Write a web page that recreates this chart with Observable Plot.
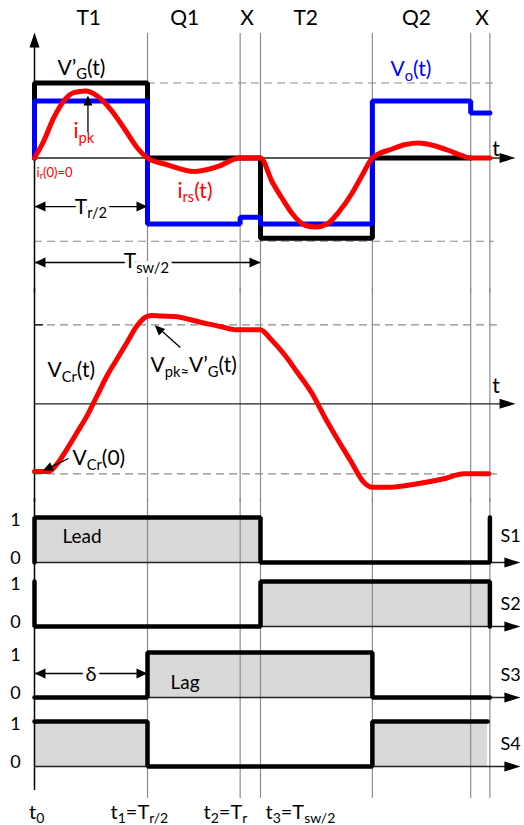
<!DOCTYPE html>
<html>
<head>
<meta charset="utf-8">
<script src="https://cdn.jsdelivr.net/npm/d3@7"></script>
<script src="https://cdn.jsdelivr.net/npm/@observablehq/plot@0.6"></script>
<style>
  html, body { margin: 0; padding: 0; background: #fff; }
  #chart { width: 524px; }
  #chart svg { display: block; }
</style>
</head>
<body>
<div id="chart"></div>
<script>
// Time base: t0 = 0, t1 = Tr/2 = 1
const eventTimes = [0, 1, 1.82, 2, 2.99, 3.86, 4.03]; // t0, t1, t2, t3, t4, t5, t6
const intervalNames = ["T1", "Q1", "X", "T2", "Q2", "X"];
const intervalLabelTimes = [0.48, 1.33, 1.88, 2.4, 3.38, 3.96];

// Transformer voltage V'G(t), normalised
const vgTimes  = [0, 0, 1, 1, 2, 2, 2.99, 2.99, 3.86];
const vgValues = [0, 1, 1, 0, 0, -1.07, -1.07, 0, 0];
const vgRef = [1, -1.11];

// Output voltage Vo(t)
const voTimes  = [0, 0, 1, 1, 1.82, 1.82, 2, 2, 2.99, 2.99, 3.86, 3.86, 4.03];
const voValues = [0, 0.76, 0.76, -0.88, -0.88, -0.79, -0.79, -0.88, -0.88, 0.76, 0.76, 0.6, 0.6];

// Resonant current irs(t)
const irsTimes  = [0, 0.082, 0.171, 0.259, 0.348, 0.451, 0.555, 0.673, 0.79, 0.909, 1.0, 1.174, 1.41, 1.617, 1.82, 2.0,
                   2.104, 2.192, 2.28, 2.398, 2.487, 2.59, 2.693, 2.81, 2.9, 2.99, 3.165, 3.283, 3.4, 3.52, 3.667, 3.785, 3.86, 4.03];
const irsValues = [0, 0.227, 0.537, 0.76, 0.871, 0.893, 0.827, 0.649, 0.404, 0.137, 0, -0.09, -0.18, -0.116, 0, 0,
                   -0.32, -0.54, -0.74, -0.9, -0.92, -0.88, -0.72, -0.47, -0.23, 0, 0.12, 0.18, 0.2, 0.17, 0.1, 0.03, 0, 0];

// Resonant capacitor voltage VCr(t)
const vcrTimes  = [0, 0.127, 0.2, 0.289, 0.378, 0.466, 0.555, 0.643, 0.732, 0.82, 0.909, 0.982, 1.04, 1.115, 1.233, 1.469, 1.646, 1.794, 2.0,
                   2.088, 2.206, 2.325, 2.458, 2.56, 2.679, 2.796, 2.914, 2.988, 3.15, 3.387, 3.622, 3.8, 4.02];
const vcrValues = [-0.857, -0.857, -0.76, -0.57, -0.36, -0.15, 0.105, 0.358, 0.57, 0.78, 0.99, 1.096, 1.118, 1.11, 1.105, 1.033, 0.978, 0.937, 0.937,
                   0.823, 0.633, 0.4, 0.127, -0.148, -0.443, -0.718, -0.992, -1.056, -1.056, -1.013, -0.949, -0.886, -0.886];
const vcrRef = [1, -0.886];

// Gate signals (corner points of each square wave)
const switchNames = ["S1", "S2", "S3", "S4"];
const s1Times = [0, 0, 2, 2, 4.03, 4.03],      s1Levels = [0, 1, 1, 0, 0, 1];
const s2Times = [0, 0, 2, 2, 4.03, 4.03],      s2Levels = [1, 0, 0, 1, 1, 0];
const s3Times = [0, 1, 1, 2.99, 2.99, 4.03],   s3Levels = [0, 0, 1, 1, 0, 0];
const s4Times = [0, 1, 1, 2.99, 2.99, 4.01],   s4Levels = [1, 1, 0, 0, 1, 1];
const levelNames = ["0", "1"];

const pts = (ts, vs) => ts.map((t, i) => ({t, v: vs[i]}));
const vg = pts(vgTimes, vgValues);
const vo = pts(voTimes, voValues);
const irs = pts(irsTimes, irsValues);
const vcr = pts(vcrTimes, vcrValues);
const signals = [pts(s1Times, s1Levels), pts(s2Times, s2Levels), pts(s3Times, s3Levels), pts(s4Times, s4Levels)];

// ---- drawing helpers ----
const GRID = "#8c8c8c";
const RED = "#ff0000", BLUE = "#0000ff";
const dashed = {stroke: GRID, strokeWidth: 1.2, strokeDasharray: "8,5"};
const gridLines = eventTimes.slice(1);

function label(text, t, v, opts = {}) {
  return Plot.text([text], {x: () => t, y: () => v, text: d => d, textAnchor: "start", lineAnchor: "bottom", fontSize: 21, ...opts});
}
function head(t, v, rotate, length = 10, r = 4.5) {
  return Plot.vector([{t, v}], {x: "t", y: "v", rotate, length, r, shape: "spike", anchor: "end", fill: "black", stroke: "none"});
}
function pointer(t1, v1, t2, v2, tipT, tipV, rotate, length = 10) {
  return [
    Plot.link([0], {x1: () => t1, y1: () => v1, x2: () => t2, y2: () => v2, stroke: "black", strokeWidth: 1.3}),
    head(tipT, tipV, rotate, length, 4.5)
  ];
}
function span(tA, tB, v, text, textT, textV, fontSize = 21) {
  return [
    Plot.ruleY([v], {x1: tA, x2: tB, stroke: "black", strokeWidth: 1.3}),
    head(tA, v, -90, 11, 5),
    head(tB, v, 90, 11, 5),
    label(text, textT, textV, {textAnchor: "middle", stroke: "white", strokeWidth: 8, fill: "black", fontSize})
  ];
}
function timeAxis(v, tEnd, tipT) {
  return [
    Plot.ruleY([v], {x1: 0, x2: tEnd, stroke: "#222", strokeWidth: 1.3}),
    head(tipT, v, 90, 16, 5)
  ];
}

function applySubscripts(svg) {
  d3.select(svg).selectAll("text").each(function () {
    const s = this.textContent;
    if (!s.includes("_{")) return;
    const node = d3.select(this);
    node.text(null);
    let lowered = false;
    for (const part of s.split(/(_\{[^}]*\})/)) {
      if (!part) continue;
      if (part.startsWith("_{")) {
        node.append("tspan").attr("font-size", "0.7em").attr("dy", lowered ? null : "0.3em").text(part.slice(2, -1));
        lowered = true;
      } else {
        node.append("tspan").attr("dy", lowered ? "-0.21em" : null).text(part);
        lowered = false;
      }
    }
  });
  return svg;
}

function panel(height, y, marks) {
  const svg = Plot.plot({
    width: 524,
    height,
    margin: 0,
    x: {domain: [0, 1], range: [34, 147], axis: null},
    y: {...y, axis: null},
    style: {fontFamily: "Lato, 'Open Sans', sans-serif", fontSize: "21px", background: "white", overflow: "visible"},
    marks
  });
  return applySubscripts(svg);
}

// ---- panel 1: V'G, Vo and irs ----
const waveformPanel = panel(290, {domain: [0, 1], range: [157.5, 82.5]}, [
  Plot.ruleX(gridLines, {y1: 1.66, y2: -1.8, stroke: GRID, strokeWidth: 1.2}),
  Plot.ruleY([vgRef[0]], {x1: eventTimes[1], x2: 4.07, ...dashed}),
  Plot.ruleY([vgRef[1]], {x1: 0, x2: 4.07, ...dashed}),
  Plot.ruleX([0], {y1: 1.5, y2: -1.8, stroke: "black", strokeWidth: 1.5}),
  head(0, 1.673, 0, 15, 5),
  ...timeAxis(0, 4.15, 4.257),
  Plot.text(intervalNames, {x: (d, i) => intervalLabelTimes[i], y: () => 1.767, text: d => d, lineAnchor: "bottom", fontSize: 21}),
  Plot.line(vg, {x: "t", y: "v", stroke: "black", strokeWidth: 5, strokeLinejoin: "miter"}),
  Plot.line(vo, {x: "t", y: "v", stroke: BLUE, strokeWidth: 5, strokeLinejoin: "miter"}),
  Plot.line(irs, {x: "t", y: "v", stroke: RED, strokeWidth: 5, curve: "monotone-x"}),
  label("V’_{G}(t)", 0.204, 1.113),
  label("V_{o}(t)", 3.15, 1.087, {fill: BLUE}),
  ...pointer(0.473, 0.34, 0.473, 0.74, 0.473, 0.833, 0, 10),
  label("i_{pk}", 0.345, 0.264, {fill: RED}),
  label("i_{r}(0)=0", 0.018, -0.247, {fill: RED, fontSize: 13}),
  label("i_{rs}(t)", 1.265, -0.527, {fill: RED}),
  label("t", 4.05, 0.033),
  ...span(0, 1, -0.647, "T_{r/2}", 0.5, -0.74),
  ...span(0, 2, -1.393, "T_{sw/2}", 0.99, -1.473)
]);

// ---- panel 2: VCr ----
const capacitorPanel = panel(210, {domain: [0, 1], range: [113.3, 34.3]}, [
  Plot.ruleX(gridLines, {y1: 1.45, y2: -1.25, stroke: GRID, strokeWidth: 1.2}),
  Plot.ruleY([vcrRef[0]], {x1: 0, x2: 4.1, ...dashed}),
  Plot.ruleY([vcrRef[1]], {x1: 0, x2: 4.1, ...dashed}),
  Plot.ruleY([vcrRef[0]], {x1: 0, x2: 0.08, stroke: "#222", strokeWidth: 1.5}),
  Plot.ruleX([0], {y1: 1.45, y2: -1.25, stroke: "black", strokeWidth: 1.5}),
  ...timeAxis(0, 4.15, 4.257),
  Plot.line(vcr, {x: "t", y: "v", stroke: RED, strokeWidth: 5, curve: "monotone-x"}),
  label("V_{Cr}(t)", 0.115, 0.337),
  label("V_{pk≈}V’_{G}(t)", 1.027, 0.4),
  ...pointer(1.29, 0.713, 1.09, 0.97, 1.065, 0.995, -46, 10),
  label("V_{Cr}(0)", 0.336, -0.781),
  ...pointer(0.301, -0.692, 0.1, -0.83, 0.075, -0.845, -115, 10),
  label("t", 4.05, 0.143)
]);

// ---- panel 3: gate signals ----
const laneOffset = [4.533, 3.111, 1.533, 0];
const laneFills = signals.map((sig, i) => {
  const o = laneOffset[i];
  return Plot.areaY(sig, {x: "t", y1: () => o, y2: d => o + d.v, fill: "#d9d9d9"});
});
const laneLines = signals.flatMap((sig, i) => {
  const o = laneOffset[i];
  return [
    ...timeAxis(o, 4.2, 4.3),
    Plot.line(sig, {x: "t", y: d => o + d.v, stroke: "black", strokeWidth: 4.5, strokeLinecap: "round", strokeLinejoin: "miter"}),
    // level names sit just inside the 0–1 band
    Plot.text([levelNames[0]], {x: () => -0.168, y: () => o, dy: -4, text: d => d, fontSize: 18}),
    Plot.text([levelNames[1]], {x: () => -0.168, y: () => o + 1, dy: 3, text: d => d, fontSize: 18}),
    label(switchNames[i], 4.124, [4.978, 3.467, 1.911, 0.356][i], {fontSize: 18})
  ];
});

const gatePanel = panel(325, {domain: [0, 1], range: [266, 221]}, [
  ...laneFills,
  Plot.ruleX(gridLines, {y1: 5.95, y2: -0.711, stroke: GRID, strokeWidth: 1.2}),
  Plot.ruleX([0], {y1: 5.95, y2: -0.533, stroke: "black", strokeWidth: 1.5}),
  ...laneLines,
  label("Lead", 0.248, 4.956, {fontSize: 19}),
  label("Lag", 1.204, 1.733, {fontSize: 19}),
  ...span(0, 1, 2.067, "δ", 0.5, 1.9, 20),
  label("t_{0}", 0.02, -1.156, {textAnchor: "middle", fontSize: 20}),
  label("t_{1}=T_{r/2}", 0.673, -1.156, {fontSize: 20}),
  label("t_{2}=T_{r}", 1.496, -1.156, {fontSize: 20}),
  label("t_{3}=T_{sw/2}", 2.044, -1.156, {fontSize: 20})
]);

document.getElementById("chart").append(waveformPanel, capacitorPanel, gatePanel);
</script>
</body>
</html>
